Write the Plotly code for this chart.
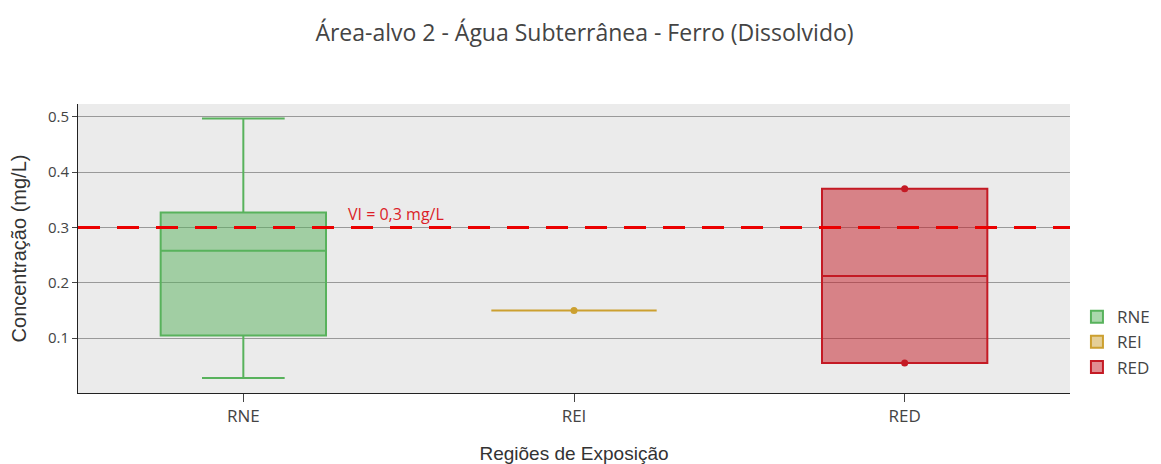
import plotly.graph_objects as go

categories = ["RNE", "REI", "RED"]

# RNE precomputed statistics
rne_q1 = [0.105]
rne_median = [0.258]
rne_q3 = [0.327]
rne_lower = [0.028]
rne_upper = [0.497]

# raw samples
rei_values = [0.15]
red_values = [0.055, 0.37]

vi_value = 0.3
vi_label = "VI = 0,3 mg/L"

fig = go.Figure()

fig.add_trace(go.Box(
    x=[categories[0]], q1=rne_q1, median=rne_median, q3=rne_q3,
    lowerfence=rne_lower, upperfence=rne_upper,
    name="RNE", boxpoints=False,
    line=dict(color="rgb(88,178,92)", width=2),
    fillcolor="rgba(88,178,92,0.5)", width=0.5, whiskerwidth=0.5,
))
fig.add_trace(go.Box(
    x=[categories[1]] * len(rei_values), y=rei_values, name="REI",
    boxpoints="all", jitter=0, pointpos=0,
    line=dict(color="rgb(204,160,48)", width=2),
    marker=dict(color="rgb(204,160,48)", size=7),
    fillcolor="rgba(204,160,48,0.5)", width=0.5,
))
fig.add_trace(go.Box(
    x=[categories[2]] * len(red_values), y=red_values, name="RED",
    boxpoints="all", jitter=0, pointpos=0,
    line=dict(color="rgb(196,26,36)", width=2),
    marker=dict(color="rgb(196,26,36)", size=7),
    fillcolor="rgba(196,26,36,0.5)", width=0.5,
))

fig.add_shape(type="line", xref="paper", yref="y", x0=0, x1=1, y0=vi_value, y1=vi_value,
              line=dict(color="rgb(235,0,0)", width=3, dash="22px,17px"))
fig.add_annotation(x=0.31, y=vi_value, xref="x", yref="y", text=vi_label, showarrow=False,
                   xanchor="left", yanchor="bottom", yshift=0,
                   font=dict(color="rgb(220,30,40)", size=16, family="Open Sans"))

fig.update_layout(
    width=1153, height=456,
    margin=dict(l=70, r=91, t=96, b=71, autoexpand=False),
    title=dict(text="Área-alvo 2 - Água Subterrânea - Ferro (Dissolvido)", x=0.5, xanchor="center",
               y=0.945, yanchor="middle", font=dict(family="Open Sans", size=23, color="#444")),
    paper_bgcolor="white", plot_bgcolor="#ebebeb",
    font=dict(family="Open Sans", size=15, color="#444"),
    showlegend=True,
    legend=dict(x=1.007, y=0.176, yanchor="middle", font=dict(size=17)),
    xaxis=dict(title=dict(text="Regiões de Exposição", font=dict(family="Liberation Sans, Arial", size=19, color="#333"), standoff=24),
               categoryorder="array", categoryarray=categories, range=[-0.5, 2.5],
               tickfont=dict(size=17), automargin=False,
               showline=True, linecolor="#222", linewidth=1, ticks="outside", ticklen=8, tickcolor="#444",
               showgrid=False, zeroline=False),
    yaxis=dict(title=dict(text="Concentração (mg/L)", font=dict(family="Liberation Sans, Arial", size=20, color="#333")),
               range=[0.001, 0.523], dtick=0.1, tickformat=".1f", tickfont=dict(size=15), automargin=False,
               showline=True, linecolor="#222", linewidth=1, ticks="outside", ticklen=5, tickcolor="#444",
               gridcolor="#999", gridwidth=1, zeroline=False),
)

fig.write_html("out.html")
